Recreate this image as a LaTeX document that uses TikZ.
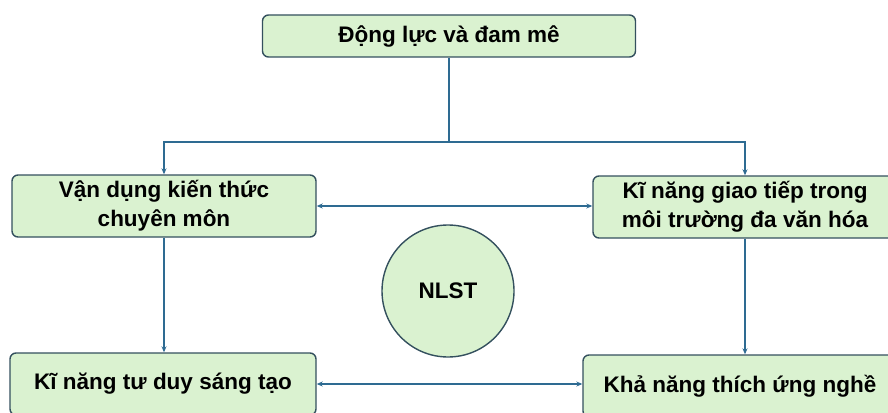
\documentclass[tikz,border=0pt]{standalone}
\usepackage{fontspec}
\setmainfont{Liberation Sans}
\usetikzlibrary{arrows.meta,calc}
\definecolor{boxfill}{HTML}{DAF2D0}
\definecolor{boxline}{HTML}{34505E}
\definecolor{linkblue}{HTML}{2E6B92}

\begin{document}
\begin{tikzpicture}[x=1pt,y=-1pt]
    % `skillbox' is used for the rounded boxes.
    % `core' is used for the NLST circle.
    % `line' and `link' are used for the connectors.
    \tikzstyle{skillbox} = [draw=boxline,fill=boxfill,line width=1.4pt,rounded corners=6pt,
                            align=center,font=\fontsize{22.5}{29}\selectfont\bfseries,inner sep=2pt]
    \tikzstyle{core} = [draw=boxline,fill=boxfill,line width=1.4pt,circle,minimum size=132pt,
                        font=\fontsize{22.5}{29}\selectfont\bfseries]
    \tikzstyle{plainlink} = [draw=linkblue,line width=1.6pt]
    \tikzstyle{link} = [plainlink,-{Stealth[length=6pt,width=5pt]}]
    \tikzstyle{dlink} = [plainlink,{Stealth[length=6pt,width=5pt]}-{Stealth[length=6pt,width=5pt]}]
    %
    \useasboundingbox (0,0) rectangle (888,412);
    \node[skillbox,minimum width=373pt,minimum height=42pt] (dongluc) at (449,36) {Động lực và đam mê};
    \node[skillbox,minimum width=304pt,minimum height=62pt] (vandung) at (164,206) {Vận dụng kiến thức\\chuyên môn};
    \node[skillbox,minimum width=304pt,minimum height=62pt] (giaotiep) at (745,207) {Kĩ năng giao tiếp trong\\môi trường đa văn hóa};
    \node[skillbox,minimum width=306pt,minimum height=62pt] (tuduy) at (163,384) {Kĩ năng tư duy sáng tạo};
    \node[skillbox,minimum width=314pt,minimum height=62pt] (thichung) at (740,386) {Khả năng thích ứng nghề};
    \node[core] (nlst) at (448,291) {NLST};
    %
    % Draw lines.
    \draw[plainlink] (dongluc.south) -- ++(0,84) coordinate (split);
    \draw[link] (split) -| (vandung.north);
    \draw[link] (split) -| (giaotiep.north);
    \draw[dlink] (vandung.east) -- (vandung.east -| giaotiep.west);
    \draw[link] (vandung.south) -- (vandung.south |- tuduy.north);
    \draw[link] (giaotiep.south) -- (giaotiep.south |- thichung.north);
    \draw[dlink] (tuduy.east) -- (tuduy.east -| thichung.west);
\end{tikzpicture}
\end{document}
